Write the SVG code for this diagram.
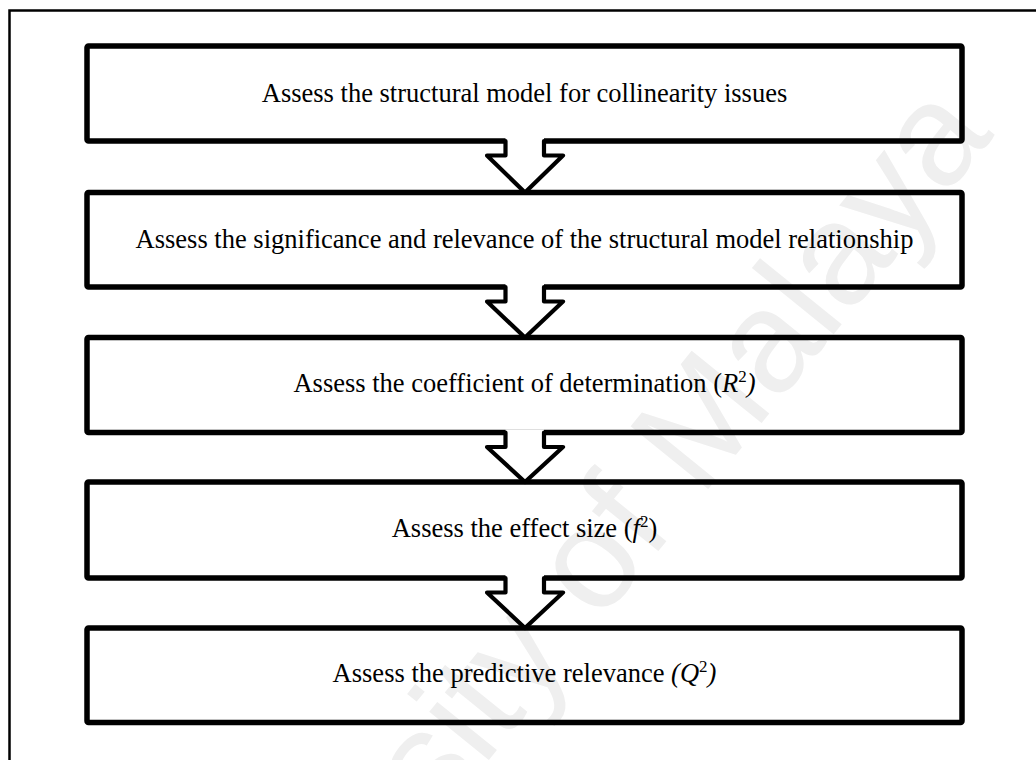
<svg xmlns="http://www.w3.org/2000/svg" width="1036" height="760" viewBox="0 0 1036 760">
  <style>
    .frame { fill: none; stroke: #000; stroke-width: 2.5; }
    .box { fill: none; stroke: #000; stroke-width: 5.5; stroke-linejoin: round; }
    .arrow-fill { fill: #fff; stroke: none; }
    .arrow-line { fill: none; stroke: #000; stroke-width: 4.2; stroke-linejoin: round; stroke-linecap: round; }
    .label { font-family: "Liberation Serif", "Times New Roman", serif; font-size: 26.5px; fill: #000; text-anchor: middle; }
    .it { font-style: italic; }
    .sup { font-size: 17px; }
    .mark { font-family: "Liberation Sans", Arial, sans-serif; font-size: 145px; fill: #efefef; text-anchor: end; }
  </style>

  <rect x="0" y="0" width="1036" height="760" fill="#fff"/>

  <!-- background watermark -->
  <text class="mark" transform="translate(995 135) rotate(-51)">University of Malaya</text>

  <!-- page frame (top and left edges) -->
  <path class="frame" d="M9.5 760 V10.5 H1036"/>

  <g id="step1">
    <rect class="box" x="87" y="46" width="875" height="95" rx="1.5"/>
    <text class="label" x="524.5" y="102">Assess the structural model for collinearity issues</text>
  </g>

  <g id="step2">
    <rect class="box" x="87" y="192.5" width="875" height="94.5" rx="1.5"/>
    <text class="label" x="524.5" y="247.5">Assess the significance and relevance of the structural model relationship</text>
  </g>

  <g id="step3">
    <rect class="box" x="87" y="337.5" width="875" height="95" rx="1.5"/>
    <text class="label" x="524.5" y="392">Assess the coefficient of determination (<tspan class="it">R</tspan><tspan class="sup" dy="-10">2</tspan><tspan class="it" dy="10">)</tspan></text>
  </g>

  <g id="step4">
    <rect class="box" x="87" y="482" width="875" height="96" rx="1.5"/>
    <text class="label" x="524.5" y="537">Assess the effect size (<tspan class="it">f</tspan><tspan class="sup" dy="-10">2</tspan><tspan dy="10">)</tspan></text>
  </g>

  <g id="step5">
    <rect class="box" x="87" y="628" width="875" height="94.5" rx="1.5"/>
    <text class="label" x="524.5" y="682">Assess the predictive relevance <tspan class="it">(Q</tspan><tspan class="sup" dy="-10">2</tspan><tspan class="it" dy="10">)</tspan></text>
  </g>

  <!-- block arrows between consecutive steps -->
  <g id="connectors">
    <g id="arrow1">
      <polygon class="arrow-fill" points="505.5,138 544,138 544,155.5 563,155.5 525,192.5 487,155.5 505.5,155.5"/>
      <path class="arrow-line" d="M505.5 141 V155.5 H487 L525 192.5 L563 155.5 H544 V141"/>
    </g>
    <g id="arrow2">
      <polygon class="arrow-fill" points="505.5,284 544,284 544,301.5 563,301.5 525,337.5 487,301.5 505.5,301.5"/>
      <path class="arrow-line" d="M505.5 287 V301.5 H487 L525 337.5 L563 301.5 H544 V287"/>
    </g>
    <g id="arrow3">
      <polygon class="arrow-fill" points="505.5,429.5 544,429.5 544,447 563,447 525,482 487,447 505.5,447"/>
      <path class="arrow-line" d="M505.5 432.5 V447 H487 L525 482 L563 447 H544 V432.5"/>
    </g>
    <g id="arrow4">
      <polygon class="arrow-fill" points="505.5,575 544,575 544,592.5 563,592.5 525,628 487,592.5 505.5,592.5"/>
      <path class="arrow-line" d="M505.5 578 V592.5 H487 L525 628 L563 592.5 H544 V578"/>
    </g>
  </g>
</svg>
